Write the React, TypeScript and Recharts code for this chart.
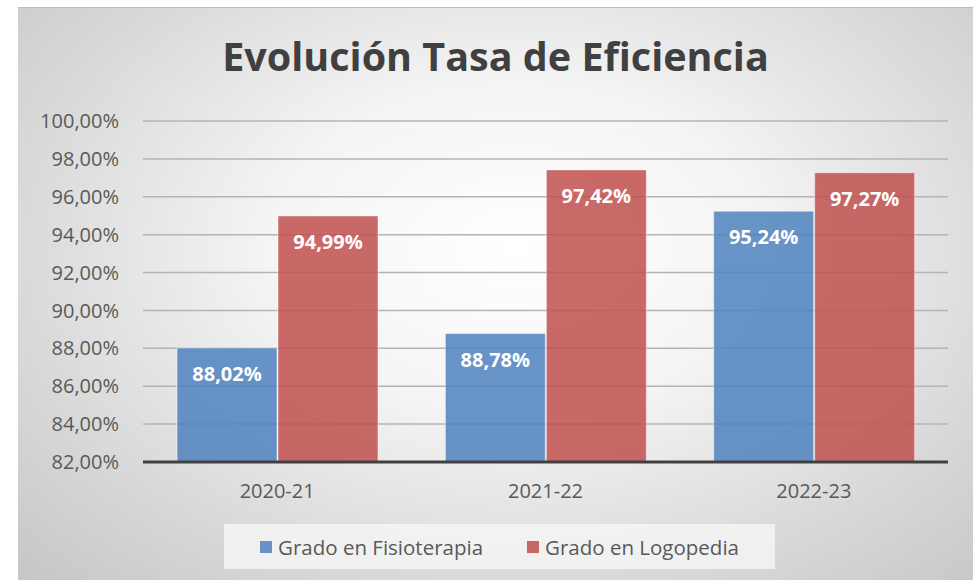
import React from 'react';
import { BarChart, Bar, XAxis, YAxis, CartesianGrid, Legend, LabelList } from 'recharts';

const cursos = ['2020-21', '2021-22', '2022-23'];
const fisioterapia = [88.02, 88.78, 95.24];
const logopedia = [94.99, 97.42, 97.27];
const yTicks = [82, 84, 86, 88, 90, 92, 94, 96, 98, 100];

const series = [
  { key: 'fisio', name: 'Grado en Fisioterapia', color: '#4f81bd' },
  { key: 'logo', name: 'Grado en Logopedia', color: '#c0504d' },
];

const data = cursos.map((c, i) => ({ curso: c, fisio: fisioterapia[i], logo: logopedia[i] }));

const FONT = '"Open Sans", "Noto Sans", sans-serif';
const pct = (v: any) => Number(v).toFixed(2).replace('.', ',') + '%';

const LegendBox = () => (
  <div
    style={{
      width: '100%',
      height: '100%',
      background: 'rgba(245,245,245,0.85)',
      display: 'flex',
      alignItems: 'center',
      justifyContent: 'center',
      gap: 44,
      fontFamily: FONT,
      fontSize: 20.5,
      color: '#595959',
    }}
  >
    {series.map((s) => (
      <div key={s.key} style={{ display: 'flex', alignItems: 'center' }}>
        <span style={{ width: 12, height: 12, background: s.color, opacity: 0.85, marginRight: 6, display: 'inline-block' }} />
        {s.name}
      </div>
    ))}
  </div>
);

const App = () => {
  return (
    <div
      style={{
        position: 'absolute',
        left: 18,
        top: 7,
        width: 955,
        height: 573,
        background: 'radial-gradient(ellipse at 52% 42%, #ffffff 0%, #f4f4f4 35%, #dadada 70%, #c6c6c6 100%)',
        borderTop: '1px solid #bbbbbb',
      }}
    >
      <div
        style={{
          position: 'absolute',
          top: 21,
          width: '100%',
          textAlign: 'center',
          fontFamily: FONT,
          fontWeight: 700,
          fontSize: 39.5,
          color: '#404040',
        }}
      >
        Evolución Tasa de Eficiencia
      </div>
      <BarChart
        width={955}
        height={573}
        data={data}
        margin={{ top: 113, right: 25, left: 0, bottom: 89 }}
        barSize={100}
        barGap={1}
        style={{ position: 'absolute', left: 0, top: 0 }}
      >
        <CartesianGrid vertical={false} stroke="#b4b4b4" strokeWidth={1.5} />
        <XAxis
          dataKey="curso"
          axisLine={{ stroke: '#404040', strokeWidth: 3 }}
          tickLine={false}
          tickSize={0}
          tickMargin={22}
          height={30}
          tick={{ fill: '#595959', fontSize: 20, fontFamily: FONT }}
        />
        <YAxis
          domain={[82, 100]}
          ticks={yTicks}
          interval={0}
          width={125}
          axisLine={false}
          tickLine={false}
          tickSize={0}
          tickMargin={24}
          tickFormatter={pct}
          tick={{ fill: '#595959', fontSize: 20, fontFamily: FONT }}
        />
        <Legend
          layout="vertical"
          align="center"
          verticalAlign="middle"
          content={<LegendBox />}
          wrapperStyle={{ left: 206, top: 516, width: 551, height: 45 }}
        />
        {series.map((s) => (
          <Bar
            key={s.key}
            dataKey={s.key}
            name={s.name}
            fill={s.color}
            fillOpacity={0.85}
            stroke="rgba(255,255,255,0.5)"
            isAnimationActive={false}
          >
            <LabelList
              dataKey={s.key}
              position="insideTop"
              offset={19}
              formatter={pct}
              fill="#ffffff"
              style={{ fontFamily: FONT, fontWeight: 700, fontSize: 20 }}
            />
          </Bar>
        ))}
      </BarChart>
    </div>
  );
};

export default App;
